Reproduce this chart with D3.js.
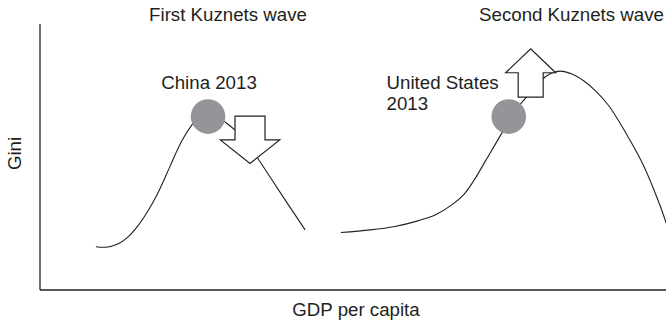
<!DOCTYPE html>
<html>
<head>
<meta charset="utf-8">
<script src="https://cdn.jsdelivr.net/npm/d3@7"></script>
<style>
  html, body { margin: 0; padding: 0; background: #fff; }
  #vis { width: 666px; height: 320px; }
  text { font-family: "Liberation Sans", Arial, Helvetica, sans-serif; fill: #231f20; }
</style>
</head>
<body>
<div id="vis"></div>
<script>
// Two Kuznets waves: stylised Gini vs GDP per capita, with China and US 2013 markers.

// ── Data (x = GDP per capita index 0–100, y = Gini index 0–100) ───────────

const waveOneX = [9.0, 10.6, 12.5, 14.1, 15.7, 17.3, 18.9, 20.8, 22.7, 24.3, 25.6, 26.7, 28.0, 29.6, 31.2, 33.0, 34.7, 36.8, 39.2, 42.4];
const waveOneY = [16.1, 15.9, 17.1, 19.7, 23.9, 29.5, 36.3, 46.1, 55.8, 61.8, 65.2, 66.4, 65.6, 63.0, 60.0, 55.5, 49.8, 42.3, 33.7, 22.4];

const waveTwoX = [48.1, 52.8, 56.7, 60.4, 63.3, 65.8, 67.8, 69.4, 71.0, 72.6, 74.1, 75.7, 77.3, 78.9, 80.7, 81.8, 83.1, 85.0, 86.9, 88.8, 90.9, 93.6, 96.3, 98.9, 100.3];
const waveTwoY = [21.4, 22.4, 23.7, 25.8, 28.2, 31.8, 35.9, 41.2, 47.6, 54.0, 60.0, 66.4, 71.2, 75.4, 79.9, 81.4, 82.1, 81.0, 78.4, 74.6, 69.0, 58.8, 47.2, 32.5, 23.1];

const markerNames = ["China 2013", "United States 2013"];
const markerX     = [26.9, 74.9];
const markerY     = [65.0, 65.0];

// arrows: x of the shaft, y where the shaft starts, y of the tip
const arrowX    = [33.6, 78.4];
const arrowFrom = [65.2, 72.3];
const arrowTo   = [47.4, 90.5];

const waveTitles = ["First Kuznets wave", "Second Kuznets wave"];
const xLabel = "GDP per capita";
const yLabel = "Gini";

// ── Layout ────────────────────────────────────────────────────────────────

const W = 666, H = 320;
const INK = "#231f20";
const FONT = "18.7px";

const x = d3.scaleLinear().domain([0, 100]).range([39.5, 666]);
const y = d3.scaleLinear().domain([0, 100]).range([289.5, 23.5]);

const svg = d3.select("#vis").append("svg")
  .attr("width", W)
  .attr("height", H);

// Axes: bare domain lines, no ticks
svg.append("g")
  .attr("transform", `translate(${x(0)},0)`)
  .call(d3.axisLeft(y).ticks(0).tickSizeOuter(0))
  .call(ax => ax.select(".domain").attr("stroke", INK).attr("stroke-width", 1.3));

svg.append("g")
  .attr("transform", `translate(0,${y(0)})`)
  .call(d3.axisBottom(x).ticks(0).tickSizeOuter(0))
  .call(ax => ax.select(".domain").attr("stroke", INK).attr("stroke-width", 1.3));

// ── Curves ────────────────────────────────────────────────────────────────

const line = d3.line()
  .x(d => x(d[0]))
  .y(d => y(d[1]))
  .curve(d3.curveCatmullRom.alpha(0.5));

const waves = [
  d3.zip(waveOneX, waveOneY),
  d3.zip(waveTwoX, waveTwoY),
];

svg.append("g")
  .selectAll("path")
  .data(waves)
  .join("path")
    .attr("d", line)
    .attr("fill", "none")
    .attr("stroke", INK)
    .attr("stroke-width", 1.1);

// ── Country markers ───────────────────────────────────────────────────────

svg.append("g")
  .selectAll("circle")
  .data(markerNames)
  .join("circle")
    .attr("cx", (d, i) => x(markerX[i]))
    .attr("cy", (d, i) => y(markerY[i]))
    .attr("r", 17.3)
    .attr("fill", "#939598");

// ── Block arrows ──────────────────────────────────────────────────────────

const HEAD_HALF  = [29.7, 25];
const SHAFT_HALF = [15, 12.5];
const HEAD_LEN   = [23.5, 24];

function arrowPath(i) {
  const cx = x(arrowX[i]);
  const y0 = y(arrowFrom[i]);
  const y1 = y(arrowTo[i]);
  const dir = y1 > y0 ? 1 : -1;
  const yb = y1 - dir * HEAD_LEN[i];
  const p = d3.path();
  p.moveTo(cx - SHAFT_HALF[i], y0);
  p.lineTo(cx + SHAFT_HALF[i], y0);
  p.lineTo(cx + SHAFT_HALF[i], yb);
  p.lineTo(cx + HEAD_HALF[i], yb);
  p.lineTo(cx, y1);
  p.lineTo(cx - HEAD_HALF[i], yb);
  p.lineTo(cx - SHAFT_HALF[i], yb);
  p.closePath();
  return p.toString();
}

svg.append("g")
  .selectAll("path")
  .data(arrowX)
  .join("path")
    .attr("d", (d, i) => arrowPath(i))
    .attr("fill", "#fff")
    .attr("stroke", INK)
    .attr("stroke-width", 1.2)
    .attr("stroke-linejoin", "miter");

// ── Text ──────────────────────────────────────────────────────────────────

svg.append("text")
  .attr("x", 228).attr("y", 21)
  .attr("text-anchor", "middle")
  .style("font-size", FONT)
  .text(waveTitles[0]);

svg.append("text")
  .attr("x", 571.5).attr("y", 21)
  .attr("text-anchor", "middle")
  .style("font-size", FONT)
  .text(waveTitles[1]);

svg.append("text")
  .attr("x", 209).attr("y", 89.4)
  .attr("text-anchor", "middle")
  .style("font-size", FONT)
  .text(markerNames[0]);

const us = svg.append("text")
  .attr("x", 386.5).attr("y", 89.4)
  .style("font-size", FONT);
us.append("tspan").attr("x", 386.5).text("United States");
us.append("tspan").attr("x", 386.5).attr("dy", 21).text("2013");

svg.append("text")
  .attr("x", 356).attr("y", 316.3)
  .attr("text-anchor", "middle")
  .style("font-size", FONT)
  .text(xLabel);

svg.append("text")
  .attr("transform", "translate(20.5,153.5) rotate(-90)")
  .attr("text-anchor", "middle")
  .style("font-size", FONT)
  .text(yLabel);
</script>
</body>
</html>
